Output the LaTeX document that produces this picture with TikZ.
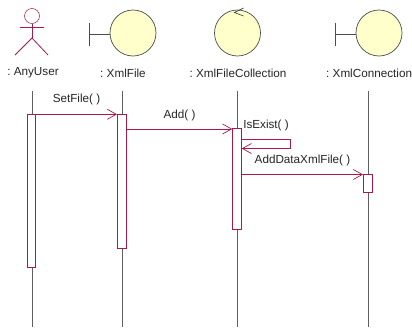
\documentclass[tikz,border=0pt]{standalone}
\usepackage{fontspec}
\setmainfont{Liberation Sans}
\usetikzlibrary{arrows.meta}
\definecolor{umlred}{RGB}{165,25,75}
\definecolor{umlfill}{RGB}{255,255,204}
\definecolor{lifegray}{RGB}{95,95,95}
\tikzset{
  x=1pt,y=-1pt,
  life/.style={draw=lifegray,line width=0.7pt},
  activation/.style={draw=umlred,fill=white,line width=0.9pt,minimum width=8.5pt,inner sep=0pt,rectangle},
  msg/.style={draw=umlred,line width=0.8pt,-{Straight Barb[length=9pt,width=10pt,line width=0.7pt]}},
  selfmsg/.style={draw=umlred,line width=0.8pt},
  lbl/.style={font=\fontsize{11.7pt}{13pt}\selectfont\frenchspacing,text=black!85,inner sep=0pt},
  ball/.style={circle,draw=black!70,fill=umlfill,line width=0.7pt,minimum size=46pt,inner sep=0pt},
  actorline/.style={draw=umlred,line width=0.8pt},
  head/.style={circle,draw=umlred,line width=0.5pt,fill=white,minimum size=15pt,inner sep=0pt}
}
\begin{document}
\begin{tikzpicture}
\useasboundingbox[fill=white] (0,0) rectangle (412,327);
\clip (0,0) rectangle (412,327);
% labels
\node[lbl] (lA) at (33,73) {: AnyUser};
\node[lbl] (lB) at (123,73) {: XmlFile};
\node[lbl] (lC) at (238,73) {: XmlFileCollection};
\node[lbl,anchor=west] (lD) at (326,73) {: XmlConnection};
% actor
\node[head] (head) at (32,16) {};
\coordinate (hip) at (32,38);
\coordinate (armL) at (20,27.5);
\coordinate (armR) at (44,27.5);
\coordinate (legL) at (15,55);
\coordinate (legR) at (48,55);
\draw[actorline] (head.south) -- (hip);
\draw[actorline] (armL) -- (armR);
\draw[actorline] (legL) -- (hip) -- (legR);
% boundary XmlFile
\node[ball] (bB) at (133,33) {};
\coordinate (bBtop) at (89,23);
\coordinate (bBbot) at (89,45.5);
\coordinate (bBmid) at (89,34);
\draw[draw=black!70,line width=0.7pt] (bBtop) -- (bBbot);
\draw[draw=black!70,line width=0.7pt] (bBmid) -- (bB.west |- bBmid);
% control
\node[ball] (bC) at (237.5,33) {};
\coordinate (cA) at (243.5,8);
\coordinate (cB) at (234.5,12.5);
\coordinate (cC) at (243.5,16);
\draw[draw=black!70,line width=0.7pt] (cA) -- (cB) -- (cC);
% boundary XmlConnection
\node[ball] (bD) at (379,33) {};
\coordinate (bDtop) at (335,23);
\coordinate (bDbot) at (335,45.5);
\coordinate (bDmid) at (335,34);
\draw[draw=black!70,line width=0.7pt] (bDtop) -- (bDbot);
\draw[draw=black!70,line width=0.7pt] (bDmid) -- (bD.west |- bDmid);
% lifelines
\coordinate (tA) at (32,91); \coordinate (eA) at (32,327);
\coordinate (tB) at (122,91); \coordinate (eB) at (122,327);
\coordinate (tC) at (237.5,91); \coordinate (eC) at (237.5,327);
\coordinate (tD) at (368,91); \coordinate (eD) at (368,327);
\draw[life] (tA) -- (eA);
\draw[life] (tB) -- (eB);
\draw[life] (tC) -- (eC);
\draw[life] (tD) -- (eD);
% activations
\node[activation,minimum height=153pt] (aA) at (31.3,190.5) {};
\node[activation,minimum height=134pt] (aB) at (121.7,181) {};
\node[activation,minimum height=101.5pt] (aC) at (237,178.7) {};
\node[activation,minimum height=18pt] (aD) at (367.7,183) {};
% messages
\draw[msg] (aA.east |- 0,114.3) -- (aB.west |- 0,114.3);
\draw[msg] (aB.east |- 0,129) -- (aC.west |- 0,129);
\coordinate (s1) at (290,139.5);
\coordinate (s2) at (290,148.5);
\draw[selfmsg,-{Straight Barb[length=9pt,width=10pt,line width=0.7pt]}] (aC.east |- s1) -- (s1) -- (s2) -- (aC.east |- s2);
\draw[msg] (aC.east |- 0,174.5) -- (aD.west |- 0,174.5);
% message labels
\node[lbl] (m1) at (76.5,99) {SetFile( )};
\node[lbl] (m2) at (179.5,115) {Add( )};
\node[lbl] (m3) at (266,125.5) {IsExist( )};
\node[lbl] (m4) at (302.5,160) {AddDataXmlFile( )};
\end{tikzpicture}
\end{document}
